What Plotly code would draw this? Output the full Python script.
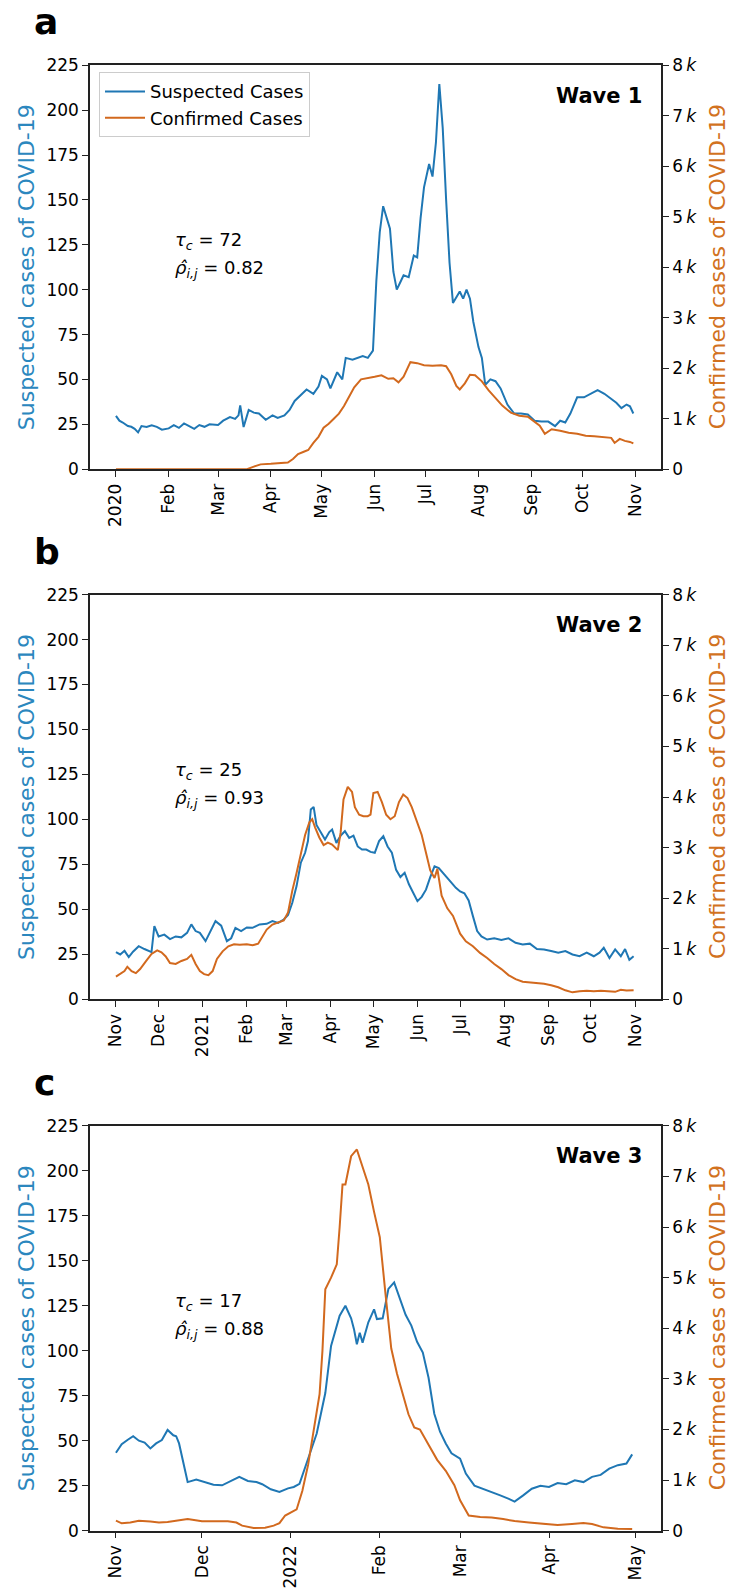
import pandas as pd
import plotly.graph_objects as go

# ---------------- data ----------------
# Wave 1
s1_dates = ["2020-01-01","2020-01-03","2020-01-05","2020-01-08","2020-01-10","2020-01-12","2020-01-14","2020-01-16","2020-01-19","2020-01-22",
            "2020-01-25","2020-01-28","2020-02-01","2020-02-04","2020-02-07","2020-02-10","2020-02-13","2020-02-16","2020-02-19","2020-02-22",
            "2020-02-25","2020-03-01","2020-03-04","2020-03-08","2020-03-11","2020-03-13","2020-03-14","2020-03-16","2020-03-19","2020-03-22",
            "2020-03-25","2020-03-29","2020-04-02","2020-04-05","2020-04-09","2020-04-12","2020-04-15","2020-04-18","2020-04-22","2020-04-26",
            "2020-04-29","2020-05-01","2020-05-04","2020-05-06","2020-05-10","2020-05-13","2020-05-15","2020-05-19","2020-05-22","2020-05-25",
            "2020-05-28","2020-05-31","2020-06-02","2020-06-04","2020-06-06","2020-06-08","2020-06-10","2020-06-12","2020-06-14","2020-06-16",
            "2020-06-18","2020-06-21","2020-06-24","2020-06-26","2020-06-28","2020-06-30","2020-07-02","2020-07-03","2020-07-05","2020-07-07",
            "2020-07-09","2020-07-11","2020-07-13","2020-07-15","2020-07-17","2020-07-19","2020-07-21","2020-07-23","2020-07-25","2020-07-27",
            "2020-07-29","2020-08-01","2020-08-03","2020-08-05","2020-08-08","2020-08-11","2020-08-14","2020-08-18","2020-08-22","2020-08-26",
            "2020-08-30","2020-09-03","2020-09-07","2020-09-11","2020-09-15","2020-09-18","2020-09-21","2020-09-24","2020-09-28","2020-10-02",
            "2020-10-06","2020-10-10","2020-10-14","2020-10-18","2020-10-21","2020-10-24","2020-10-27","2020-10-29","2020-10-31"]
s1_vals = [29.7,27,26,24,23.6,22.5,20.5,24,23.5,24.5,
           23.6,22,22.7,24.5,23,25.5,24,22.5,24.6,23.6,
           25,24.6,27,29,28,30,35.5,23.5,33,31.5,
           31,27.5,30,28.5,30,33,38,40.6,44.4,42,
           46,52,50,45,54,50,62,61,62,63,
           62,66,105,132,146.5,140,134,110,100,104,
           108,107,119,118,140,157,165,170,163,182,
           214.6,190,150,115,92.6,96,99,95,100,95,
           82,68,62,47,50,49,45,36,31,31,
           30.5,27,26.5,26.5,24,27,26,31,40,40,
           42,44,42,39,37,34,36,35,31]
c1_dates = ["2020-01-01","2020-03-18","2020-03-22","2020-03-26","2020-04-01","2020-04-06","2020-04-11","2020-04-14","2020-04-17","2020-04-20",
            "2020-04-23","2020-04-26","2020-04-29","2020-05-02","2020-05-05","2020-05-08","2020-05-11","2020-05-14","2020-05-17","2020-05-20",
            "2020-05-24","2020-05-28","2020-06-01","2020-06-05","2020-06-09","2020-06-12","2020-06-15","2020-06-18","2020-06-22","2020-06-26",
            "2020-06-30","2020-07-05","2020-07-10","2020-07-13","2020-07-16","2020-07-19","2020-07-21","2020-07-24","2020-07-27","2020-07-30",
            "2020-08-03","2020-08-07","2020-08-11","2020-08-15","2020-08-20","2020-08-25","2020-08-30","2020-09-03","2020-09-06","2020-09-09",
            "2020-09-13","2020-09-18","2020-09-23","2020-09-28","2020-10-03","2020-10-08","2020-10-13","2020-10-18","2020-10-20","2020-10-23",
            "2020-10-26","2020-10-29","2020-10-31"]
c1_vals = [0,0,50,95,105,115,130,200,300,340,
           380,520,640,820,900,1000,1100,1250,1450,1620,
           1780,1800,1830,1860,1790,1800,1720,1830,2120,2100,
           2060,2050,2060,2040,1880,1650,1580,1700,1870,1860,
           1740,1560,1420,1260,1120,1060,1040,940,860,700,
           790,760,720,700,660,650,640,620,520,600,
           560,540,510]

# Wave 2
s2_dates = ["2020-11-01","2020-11-04","2020-11-07","2020-11-10","2020-11-13","2020-11-17","2020-11-21","2020-11-24","2020-11-26","2020-11-28",
            "2020-12-01","2020-12-05","2020-12-09","2020-12-13","2020-12-17","2020-12-21","2020-12-24","2020-12-27","2020-12-30","2021-01-03",
            "2021-01-06","2021-01-10","2021-01-14","2021-01-18","2021-01-21","2021-01-24","2021-01-28","2021-02-01","2021-02-05","2021-02-10",
            "2021-02-15","2021-02-19","2021-02-23","2021-02-27","2021-03-02","2021-03-05","2021-03-08","2021-03-11","2021-03-14","2021-03-16",
            "2021-03-18","2021-03-20","2021-03-22","2021-03-25","2021-03-28","2021-03-31","2021-04-02","2021-04-05","2021-04-08","2021-04-11",
            "2021-04-14","2021-04-17","2021-04-20","2021-04-23","2021-04-26","2021-04-29","2021-05-02","2021-05-05","2021-05-08","2021-05-11",
            "2021-05-14","2021-05-17","2021-05-20","2021-05-23","2021-05-26","2021-05-29","2021-06-01","2021-06-04","2021-06-07","2021-06-10",
            "2021-06-13","2021-06-16","2021-06-19","2021-06-22","2021-06-25","2021-06-28","2021-07-01","2021-07-04","2021-07-07","2021-07-10",
            "2021-07-13","2021-07-16","2021-07-20","2021-07-25","2021-07-30","2021-08-04","2021-08-09","2021-08-14","2021-08-19","2021-08-24",
            "2021-08-29","2021-09-03","2021-09-08","2021-09-13","2021-09-18","2021-09-23","2021-09-28","2021-10-03","2021-10-07","2021-10-10",
            "2021-10-14","2021-10-18","2021-10-22","2021-10-25","2021-10-28","2021-10-31"]
s2_vals = [26.3,25,27,23.5,26.5,29.6,28,26.9,26.3,40.7,
           35,36,33.5,35,34.5,37,41.7,38,37,32.4,
           37,43.5,41,32.4,34,39.8,38,40,39.8,41.7,
           42,43.5,42.5,44.4,47,53.7,63,76,81.5,88,
           105.6,107,97,92.6,88.9,93,94.4,87,91,93.5,
           89.8,91,85,83.3,83.3,82,81.5,88,90.7,85,
           81.5,72,68,70.4,64,59.3,54.6,57,61,68,
           74,73,70.4,68,64.8,62,60,59,55,46.3,
           38,35,33.3,34,33,34,31.5,30.5,31,28,
           27.8,26.9,26,26.9,25,24,26,24,26,28.7,
           23,27.8,24,28,22,24]
c2_dates = ["2020-11-01","2020-11-04","2020-11-07","2020-11-09","2020-11-12","2020-11-15","2020-11-18","2020-11-22","2020-11-26","2020-11-30",
            "2020-12-03","2020-12-06","2020-12-09","2020-12-13","2020-12-17","2020-12-21","2020-12-24","2020-12-27","2020-12-30","2021-01-02",
            "2021-01-05","2021-01-08","2021-01-11","2021-01-15","2021-01-19","2021-01-23","2021-01-27","2021-02-01","2021-02-05","2021-02-09",
            "2021-02-12","2021-02-15","2021-02-19","2021-02-23","2021-02-27","2021-03-02","2021-03-05","2021-03-08","2021-03-11","2021-03-14",
            "2021-03-17","2021-03-19","2021-03-21","2021-03-24","2021-03-27","2021-03-30","2021-04-02","2021-04-04","2021-04-06","2021-04-08",
            "2021-04-10","2021-04-13","2021-04-16","2021-04-18","2021-04-21","2021-04-24","2021-04-27","2021-04-29","2021-05-01","2021-05-04",
            "2021-05-07","2021-05-10","2021-05-13","2021-05-16","2021-05-19","2021-05-22","2021-05-25","2021-05-28","2021-06-01","2021-06-04",
            "2021-06-07","2021-06-10","2021-06-13","2021-06-15","2021-06-18","2021-06-22","2021-06-26","2021-07-01","2021-07-05","2021-07-10",
            "2021-07-15","2021-07-20","2021-07-25","2021-07-30","2021-08-04","2021-08-09","2021-08-14","2021-08-19","2021-08-24","2021-08-29",
            "2021-09-03","2021-09-08","2021-09-13","2021-09-18","2021-09-23","2021-09-28","2021-10-03","2021-10-08","2021-10-13","2021-10-18",
            "2021-10-22","2021-10-26","2021-10-31"]
c2_vals = [452,500,560,645,560,520,600,750,900,968,
           930,850,720,700,760,800,880,700,560,500,
           480,560,800,950,1050,1090,1080,1090,1070,1100,
           1230,1380,1480,1520,1560,1720,2150,2500,2900,3250,
           3500,3560,3400,3200,3050,3100,3060,3000,2950,3300,
           3950,4200,4100,3800,3650,3620,3620,3650,4080,4100,
           3900,3650,3560,3620,3900,4050,3980,3800,3500,3250,
           2900,2550,2400,2580,2050,1800,1650,1300,1150,1050,
           920,820,700,600,480,400,350,340,320,310,
           280,240,180,140,160,170,160,170,160,150,
           190,175,180]

# Wave 3
s3_dates = ["2021-11-01","2021-11-03","2021-11-05","2021-11-07","2021-11-09","2021-11-11","2021-11-13","2021-11-15","2021-11-17","2021-11-19",
            "2021-11-21","2021-11-22","2021-11-23","2021-11-26","2021-11-29","2021-12-02","2021-12-05","2021-12-08","2021-12-11","2021-12-14",
            "2021-12-17","2021-12-20","2021-12-22","2021-12-25","2021-12-28","2021-12-31","2022-01-02","2022-01-04","2022-01-07","2022-01-10",
            "2022-01-13","2022-01-15","2022-01-18","2022-01-20","2022-01-22","2022-01-23","2022-01-24","2022-01-25","2022-01-26","2022-01-28",
            "2022-01-30","2022-01-31","2022-02-02","2022-02-04","2022-02-06","2022-02-08","2022-02-10","2022-02-12","2022-02-14","2022-02-16",
            "2022-02-18","2022-02-20","2022-02-22","2022-02-24","2022-02-26","2022-03-01","2022-03-03","2022-03-06","2022-03-09","2022-03-12",
            "2022-03-15","2022-03-18","2022-03-20","2022-03-23","2022-03-26","2022-03-29","2022-04-01","2022-04-04","2022-04-07","2022-04-10",
            "2022-04-13","2022-04-16","2022-04-19","2022-04-22","2022-04-25","2022-04-28","2022-04-30"]
s3_vals = [43.3,48,50.4,52.5,50,49,45.7,48.5,50.4,56,
           53,52.5,48.5,27,28.4,27,25.5,25.2,27.5,29.9,
           27.6,27,25.8,23,21.5,23.5,24.3,26,40,54,
           76.5,102.7,119.5,125,118,112,103.6,110,104.5,115.8,
           123,117.6,118,134.4,138,128.8,120,114,105,99,
           85,65,55,48.5,43,40,31.7,25,23.3,21.5,
           19.6,17.7,16.2,19.6,23.3,25,24.3,26.5,25.8,28,
           27,29.9,31,34.5,36.4,37.3,42.4]
c3_dates = ["2021-11-01","2021-11-03","2021-11-06","2021-11-09","2021-11-13","2021-11-16","2021-11-19","2021-11-22","2021-11-26","2021-12-01",
            "2021-12-05","2021-12-10","2021-12-13","2021-12-15","2021-12-19","2021-12-23","2021-12-26","2021-12-28","2021-12-30","2022-01-01",
            "2022-01-03","2022-01-05","2022-01-07","2022-01-09","2022-01-11","2022-01-12","2022-01-13","2022-01-15","2022-01-17","2022-01-18",
            "2022-01-19","2022-01-20","2022-01-22","2022-01-24","2022-01-26","2022-01-28","2022-01-30","2022-02-01","2022-02-03","2022-02-05",
            "2022-02-07","2022-02-09","2022-02-11","2022-02-13","2022-02-15","2022-02-18","2022-02-21","2022-02-24","2022-02-27","2022-03-01",
            "2022-03-04","2022-03-08","2022-03-12","2022-03-16","2022-03-20","2022-03-25","2022-03-30","2022-04-04","2022-04-09","2022-04-13",
            "2022-04-16","2022-04-20","2022-04-25","2022-04-30"]
c3_vals = [197,145,160,197,180,164,170,200,230,184,
           184,184,160,99,53,60,99,150,300,362,
           420,789,1300,2000,2700,3553,4770,5000,5263,6000,
           6842,6842,7400,7533,7200,6842,6300,5800,4671,3600,
           3100,2697,2300,2039,2000,1700,1400,1184,900,600,
           300,270,260,230,190,160,140,110,130,150,
           130,66,40,33]

left_ticks = [0, 25, 50, 75, 100, 125, 150, 175, 200, 225]
right_ticks = [0, 1000, 2000, 3000, 4000, 5000, 6000, 7000, 8000]
right_labels = ["0"] + [f"{i}\u2009<i>k</i>" for i in range(1, 9)]

panels = [
    dict(s_d=s1_dates, s_v=s1_vals, c_d=c1_dates, c_v=c1_vals, start="2020-01-01", end="2020-11-01",
         tick_dates=["2020-01-01","2020-02-01","2020-03-01","2020-04-01","2020-05-01","2020-06-01","2020-07-01","2020-08-01","2020-09-01","2020-10-01","2020-11-01"],
         tick_text=["2020","Feb","Mar","Apr","May","Jun","Jul","Aug","Sep","Oct","Nov"],
         wave="Wave 1", tau="72", rho="0.82", letter="a"),
    dict(s_d=s2_dates, s_v=s2_vals, c_d=c2_dates, c_v=c2_vals, start="2020-11-01", end="2021-11-01",
         tick_dates=["2020-11-01","2020-12-01","2021-01-01","2021-02-01","2021-03-01","2021-04-01","2021-05-01","2021-06-01","2021-07-01","2021-08-01","2021-09-01","2021-10-01","2021-11-01"],
         tick_text=["Nov","Dec","2021","Feb","Mar","Apr","May","Jun","Jul","Aug","Sep","Oct","Nov"],
         wave="Wave 2", tau="25", rho="0.93", letter="b"),
    dict(s_d=s3_dates, s_v=s3_vals, c_d=c3_dates, c_v=c3_vals, start="2021-11-01", end="2022-05-01",
         tick_dates=["2021-11-01","2021-12-01","2022-01-01","2022-02-01","2022-03-01","2022-04-01","2022-05-01"],
         tick_text=["Nov","Dec","2022","Feb","Mar","Apr","May"],
         wave="Wave 3", tau="17", rho="0.88", letter="c"),
]

for p in panels:
    assert len(p["s_d"]) == len(p["s_v"]), (len(p["s_d"]), len(p["s_v"]))
    assert len(p["c_d"]) == len(p["c_v"]), (len(p["c_d"]), len(p["c_v"]))

# ---------------- layout geometry ----------------
W, H = 731, 1594
x_dom = [90 / W, 661 / W]
tops = [56, 592, 1130]
bots = [465, 1002, 1540]

BLUE = "#1f77b4"
ORANGE = "#d2691e"
BLUE_T = "#2b87be"
ORANGE_T = "#d2721f"
AX = "#222222"
FONT = "DejaVu Sans"

fig = go.Figure()
layout = dict(width=W, height=H, margin=dict(l=0, r=0, t=0, b=0),
              paper_bgcolor="white", plot_bgcolor="white",
              font=dict(family=FONT, size=17, color="black"),
              showlegend=True,
              legend=dict(x=99 / W, y=1 - 63 / H, xanchor="left", yanchor="top",
                          bgcolor="white", bordercolor="#cccccc", borderwidth=1,
                          font=dict(size=18, family=FONT), tracegroupgap=0, itemwidth=40))
annotations = []

for i, p in enumerate(panels):
    xi = "" if i == 0 else str(i + 1)
    yl = str(2 * i + 1) if i > 0 else ""
    yr = str(2 * i + 2)
    xname, ylname, yrname = "x" + xi, "y" + yl, "y" + yr

    fig.add_trace(go.Scatter(x=pd.to_datetime(p["s_d"]), y=p["s_v"], mode="lines",
                             line=dict(color=BLUE, width=2), name="Suspected Cases",
                             showlegend=(i == 0), xaxis=xname, yaxis=ylname))
    fig.add_trace(go.Scatter(x=pd.to_datetime(p["c_d"]), y=p["c_v"], mode="lines",
                             line=dict(color=ORANGE, width=2), name="Confirmed Cases",
                             showlegend=(i == 0), xaxis=xname, yaxis=yrname))

    s, e = pd.Timestamp(p["start"]), pd.Timestamp(p["end"])
    m = (e - s) * 0.05
    ydom = [1 - bots[i] / H, 1 - tops[i] / H]

    layout["xaxis" + xi] = dict(domain=x_dom, anchor=ylname, type="date",
                                range=[(s - m).isoformat(), (e + m).isoformat()],
                                tickmode="array", tickvals=p["tick_dates"], ticktext=p["tick_text"],
                                tickangle=-90, ticks="outside", ticklen=6, tickwidth=1.3, tickcolor=AX,
                                showline=True, linecolor=AX, linewidth=1.5, mirror=True,
                                showgrid=False, zeroline=False, tickfont=dict(size=17))
    layout["yaxis" + yl] = dict(domain=ydom, anchor=xname, range=[0, 225],
                                tickmode="array", tickvals=left_ticks,
                                ticks="outside", ticklen=6, tickwidth=1.3, tickcolor=AX,
                                showline=True, linecolor=AX, linewidth=1.5,
                                showgrid=False, zeroline=False, tickfont=dict(size=17))
    layout["yaxis" + yr] = dict(overlaying=ylname, side="right", anchor=xname, range=[0, 8000],
                                tickmode="array", tickvals=right_ticks, ticktext=right_labels,
                                ticks="outside", ticklen=6, tickwidth=1.3, tickcolor=AX,
                                showline=True, linecolor=AX, linewidth=1.5,
                                showgrid=False, zeroline=False, tickfont=dict(size=17))

    xd, yd = xname + " domain", ylname + " domain"
    annotations.append(dict(xref=xd, yref=yd, x=0.97, y=0.925, xanchor="right", yanchor="middle",
                            text="<b>" + p["wave"] + "</b>", showarrow=False,
                            font=dict(size=21, family=FONT, color="black")))
    annotations.append(dict(xref=xd, yref=yd, x=0.145, y=0.565, xanchor="left", yanchor="middle",
                            text="<i>τ<sub>c</sub></i> = " + p["tau"], showarrow=False,
                            font=dict(size=18, family=FONT, color="black")))
    annotations.append(dict(xref=xd, yref=yd, x=0.145, y=0.495, xanchor="left", yanchor="middle",
                            text="<i>ρ̂<sub>i,j</sub></i> = " + p["rho"], showarrow=False,
                            font=dict(size=18, family=FONT, color="black")))
    ymid = 1 - (tops[i] + bots[i]) / 2 / H
    annotations.append(dict(xref="paper", yref="paper", x=26 / W, y=ymid, xanchor="center", yanchor="middle",
                            text="Suspected cases of COVID-19", textangle=-90, showarrow=False,
                            font=dict(size=22, family=FONT, color=BLUE_T)))
    annotations.append(dict(xref="paper", yref="paper", x=717 / W, y=ymid, xanchor="center", yanchor="middle",
                            text="Confirmed cases of COVID-19", textangle=-90, showarrow=False,
                            font=dict(size=22, family=FONT, color=ORANGE_T)))
    annotations.append(dict(xref="paper", yref="paper", x=32 / W, y=1 - (tops[i] - 44) / H,
                            xanchor="left", yanchor="middle",
                            text="<b>" + p["letter"] + "</b>", showarrow=False,
                            font=dict(size=36, family=FONT, color="black")))

layout["annotations"] = annotations
fig.update_layout(**layout)
fig.write_html("out.html")
